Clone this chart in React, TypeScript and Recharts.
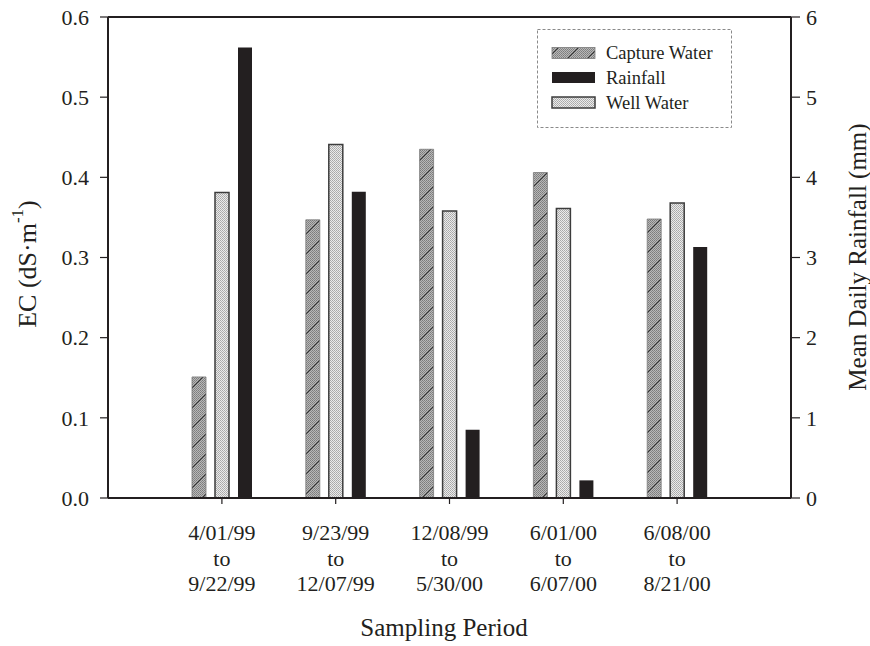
import React from "react";
import { BarChart, Bar, XAxis, YAxis, Legend, ReferenceLine, Label } from "recharts";

const periodStart = ["4/01/99", "9/23/99", "12/08/99", "6/01/00", "6/08/00"];
const periodEnd = ["9/22/99", "12/07/99", "5/30/00", "6/07/00", "8/21/00"];
const captureWater = [0.151, 0.347, 0.435, 0.406, 0.348];
const wellWater = [0.381, 0.441, 0.358, 0.361, 0.368];
const rainfall = [5.62, 3.82, 0.85, 0.22, 3.13];
const ecTicks = [0, 0.1, 0.2, 0.3, 0.4, 0.5, 0.6];
const rainTicks = [0, 1, 2, 3, 4, 5, 6];
const legendOrder = ["Capture Water", "Rainfall", "Well Water"];

const data = periodStart.map((start, i) => ({
  period: `${start} to ${periodEnd[i]}`,
  capture: captureWater[i],
  well: wellWater[i],
  rain: rainfall[i],
}));

const W = 870;
const H = 646;
const font = '"Liberation Serif", "Times New Roman", serif';
const ink = "#231f20";

const fills: Record<string, { fill: string; stroke: string; sw: number }> = {
  "Capture Water": { fill: "url(#capturePat)", stroke: "#7a7a7a", sw: 0.8 },
  Rainfall: { fill: ink, stroke: ink, sw: 0 },
  "Well Water": { fill: "url(#wellPat)", stroke: "#3c3c3c", sw: 1.5 },
};

function PeriodTick(props: any) {
  const { x, y, payload } = props;
  const [a, b] = String(payload.value).split(" to ");
  return (
    <text x={x} y={y} textAnchor="middle" fontSize={22} fill={ink} fontFamily={font}>
      <tspan x={x} dy={34}>{a}</tspan>
      <tspan x={x} dy={25.5}>to</tspan>
      <tspan x={x} dy={25.5}>{b}</tspan>
    </text>
  );
}

function LegendBox() {
  const rows = [24, 48.5, 73.5];
  return (
    <svg width={195} height={99} style={{ display: "block" }}>
      <rect x={0.5} y={0.5} width={194} height={98} fill="#fff" stroke="#8a8a8a" strokeDasharray="3 2" />
      {legendOrder.map((name, i) => (
        <g key={name}>
          <rect
            x={15}
            y={rows[i] - 5.5}
            width={43}
            height={11}
            fill={fills[name].fill}
            stroke={fills[name].stroke}
            strokeWidth={fills[name].sw || 0}
          />
          <text x={69} y={rows[i] + 6} fontSize={18.5} fill={ink} fontFamily={font}>
            {name}
          </text>
        </g>
      ))}
    </svg>
  );
}

export default function App() {
  return (
    <div style={{ position: "absolute", left: 0, top: 0, width: W, height: H, background: "#fff" }}>
      <BarChart
        width={W}
        height={H}
        data={data}
        margin={{ top: 17, right: 39, bottom: 48, left: 48 }}
        barSize={14}
        barGap={9}
      >
        <defs>
          <pattern id="capDots" width={2} height={2} patternUnits="userSpaceOnUse">
            <rect width={2} height={2} fill="#b8b8b8" />
            <rect width={1} height={1} fill="#7c7c7c" />
            <rect x={1} y={1} width={1} height={1} fill="#878787" />
          </pattern>
          <pattern id="capturePat" width={20} height={20} patternUnits="userSpaceOnUse">
            <rect width={20} height={20} fill="url(#capDots)" />
            <path d="M0,20 L20,0 M-5,5 L5,-5 M15,25 L25,15" stroke="#333" strokeWidth={1} />
          </pattern>
          <pattern id="wellPat" width={2} height={2} patternUnits="userSpaceOnUse">
            <rect width={2} height={2} fill="#ebebeb" />
            <rect width={1} height={1} fill="#a8a8a8" />
            <rect x={1} y={1} width={1} height={1} fill="#b3b3b3" />
          </pattern>
        </defs>
        <XAxis
          dataKey="period"
          xAxisId={0}
          padding={{ left: 57, right: 57 }}
          height={100}
          tickSize={6}
          tickMargin={2}
          tick={<PeriodTick />}
          axisLine={{ stroke: ink, strokeWidth: 2 }}
          tickLine={{ stroke: ink, strokeWidth: 1.2 }}
          interval={0}
        >
          <Label
            content={() => (
              <text x={444} y={636} textAnchor="middle" fontSize={25} fill={ink} fontFamily={font}>
                Sampling Period
              </text>
            )}
          />
        </XAxis>
        <YAxis
          yAxisId="left"
          domain={[0, 0.6]}
          ticks={ecTicks}
          tickFormatter={(v: number) => v.toFixed(1)}
          width={60}
          tickSize={8}
          tickMargin={11}
          tick={{ fontSize: 22, fill: ink, fontFamily: font }}
          axisLine={{ stroke: ink, strokeWidth: 2 }}
          tickLine={{ stroke: ink, strokeWidth: 1.2 }}
        >
          <Label
            content={() => (
              <text
                x={27}
                y={264}
                transform="rotate(-90, 27, 264)"
                textAnchor="middle"
                dominantBaseline="central"
                fontSize={26}
                fill={ink}
                fontFamily={font}
              >
                EC (dS·m
                <tspan dy={-10} fontSize={17}>-1</tspan>
                <tspan dy={10}>)</tspan>
              </text>
            )}
          />
        </YAxis>
        <YAxis
          yAxisId="right"
          orientation="right"
          domain={[0, 6]}
          ticks={rainTicks}
          width={40}
          tickSize={9}
          tickMargin={6}
          tick={{ fontSize: 22, fill: ink, fontFamily: font }}
          axisLine={{ stroke: ink, strokeWidth: 2 }}
          tickLine={{ stroke: ink, strokeWidth: 1.2 }}
        >
          <Label
            content={() => (
              <text
                x={857}
                y={257}
                transform="rotate(-90, 857, 257)"
                textAnchor="middle"
                dominantBaseline="central"
                fontSize={25}
                fill={ink}
                fontFamily={font}
              >
                Mean Daily Rainfall (mm)
              </text>
            )}
          />
        </YAxis>
        <ReferenceLine yAxisId="left" y={0.6} stroke={ink} strokeWidth={2} />
        <Bar
          dataKey="capture"
          name="Capture Water"
          yAxisId="left"
          fill="url(#capturePat)"
          stroke="#7a7a7a"
          strokeWidth={0.8}
          isAnimationActive={false}
        />
        <Bar
          dataKey="well"
          name="Well Water"
          yAxisId="left"
          fill="url(#wellPat)"
          stroke="#3c3c3c"
          strokeWidth={1.5}
          isAnimationActive={false}
        />
        <Bar dataKey="rain" name="Rainfall" yAxisId="right" fill={ink} isAnimationActive={false} />
        <Legend
          layout="vertical"
          align="center"
          verticalAlign="middle"
          wrapperStyle={{ position: "absolute", left: 537, top: 29, width: 195, height: 99 }}
          content={() => <LegendBox />}
        />
      </BarChart>
    </div>
  );
}
